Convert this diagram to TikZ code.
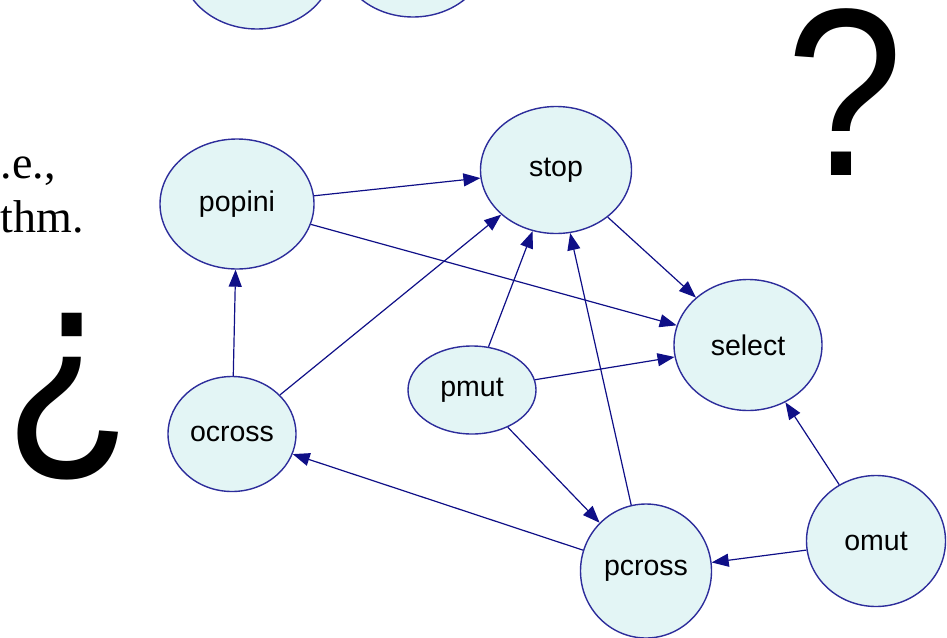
\documentclass[tikz,border=0pt]{standalone}
\usepackage{fontspec}
\setmainfont{Liberation Serif}
\setsansfont{Liberation Sans}
\usepackage{tikz}
\usetikzlibrary{arrows,arrows.meta,shapes.geometric}
\definecolor{nodefill}{RGB}{227,245,245}
\definecolor{nodeline}{RGB}{45,45,155}
\definecolor{edgeline}{RGB}{15,15,135}

\begin{document}
\begin{tikzpicture}[x=1pt,y=-1pt,->,>={Triangle[length=17pt,width=13pt]},
                    line width=1.2pt,draw=edgeline,
                    main node/.style={ellipse,draw=nodeline,fill=nodefill,line width=1.4pt,
                    inner sep=0pt,text=black,font=\sffamily\fontsize{28.5}{30}\selectfont},
                    big mark/.style={inner sep=0pt,transform shape,xscale=0.88,
                    font=\sffamily\fontsize{239}{240}\selectfont},
                    side text/.style={inner sep=0pt,anchor=base west,font=\fontsize{46}{48}\selectfont}]

  \useasboundingbox (0,0) rectangle (947,637);
  \clip[-] (0,0) rectangle (947,637);

  \node[main node,minimum width=152pt,minimum height=128pt] (top1) at (257,-35) {};
  \node[main node,minimum width=150pt,minimum height=128pt] (top2) at (413,-47) {};

  \node[main node,minimum width=154pt,minimum height=130pt] (popini) at (237,204) {popini};
  \node[main node,minimum width=151pt,minimum height=127pt] (stop) at (556,170) {stop};
  \node[main node,minimum width=148pt,minimum height=131pt] (select) at (748,345) {select};
  \node[main node,minimum width=128pt,minimum height=88pt] (pmut) at (472,390) {pmut};
  \node[main node,minimum width=128pt,minimum height=115pt] (ocross) at (232,434) {ocross};
  \node[main node,minimum width=131pt,minimum height=134pt] (pcross) at (646,571) {pcross};
  \node[main node,minimum width=139pt,minimum height=131pt] (omut) at (876,541) {omut};

  \node[side text] (ie) at (0,178) {.e.,};
  \node[side text] (thm) at (0,232) {thm.};
  \node[big mark] (qmark) at (845,92) {?};
  \node[big mark] (iqmark) at (69,397) {¿};

\path
    (popini) edge (stop)
             edge (select)
    (ocross) edge (popini)
             edge (stop)
    (pmut)   edge (stop)
             edge (select)
             edge (pcross)
    (pcross) edge (stop)
             edge (ocross)
    (stop)   edge (select)
    (omut)   edge (select)
             edge (pcross)
;
\end{tikzpicture}
\end{document}
